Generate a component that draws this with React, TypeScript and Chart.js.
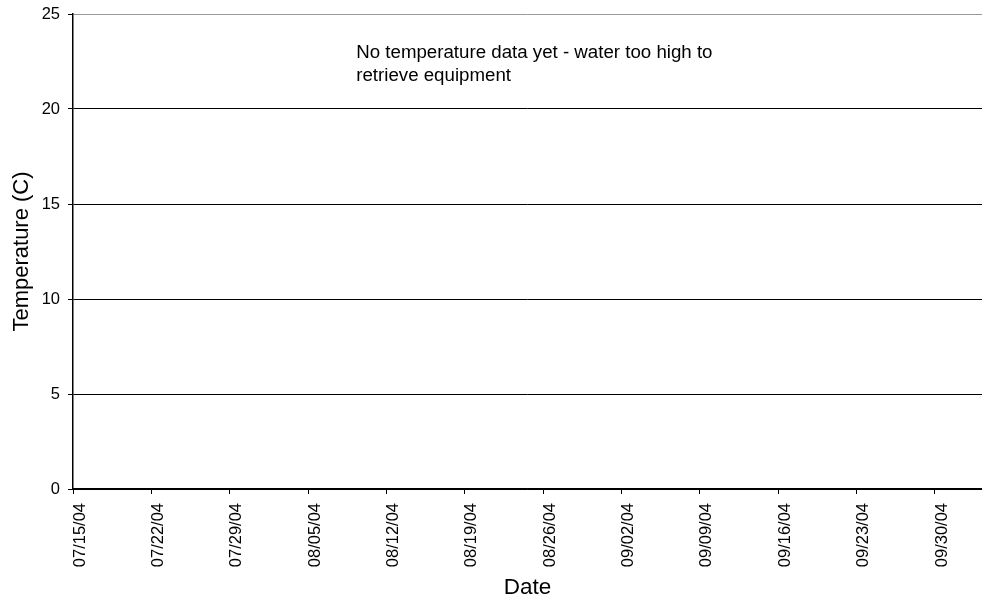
import React, { useEffect, useRef } from "react";
import { Chart, registerables } from "chart.js";

Chart.register(...registerables);

// Weekly tick dates (days since 07/15/04) and their labels
const tickDays = [0, 7, 14, 21, 28, 35, 42, 49, 56, 63, 70, 77];
const tickLabels = [
  "07/15/04", "07/22/04", "07/29/04", "08/05/04", "08/12/04", "08/19/04",
  "08/26/04", "09/02/04", "09/09/04", "09/16/04", "09/23/04", "09/30/04",
];
const xMin = 0;
const xMax = 81.2;
const yTicks = [0, 5, 10, 15, 20, 25];
const temperatureData: { x: number; y: number }[] = []; // no data yet

const noteLines = ["No temperature data yet - water too high to", "retrieve equipment"];
const noteX = 25.3; // days
const noteY = 22.71; // temperature units (first baseline)

const FONT = "'Liberation Sans', Arial, Helvetica, sans-serif";

const notePlugin = {
  id: "note",
  afterDraw(chart: any) {
    const { ctx, scales } = chart;
    const x = scales.x.getPixelForValue(noteX);
    const y = scales.y.getPixelForValue(noteY);
    ctx.save();
    ctx.font = `18.7px ${FONT}`;
    ctx.fillStyle = "#000";
    ctx.textAlign = "left";
    ctx.textBaseline = "alphabetic";
    noteLines.forEach((line, i) => ctx.fillText(line, x, y + i * 23));
    ctx.restore();
  },
};

export default function App() {
  const ref = useRef<HTMLCanvasElement>(null);
  useEffect(() => {
    if (!ref.current) return;
    const chart = new Chart(ref.current, {
      type: "scatter",
      data: {
        datasets: [
          {
            label: "Temperature",
            data: temperatureData,
            borderColor: "#000",
            backgroundColor: "#000",
          },
        ],
      },
      options: {
        animation: false,
        responsive: true,
        maintainAspectRatio: false,
        layout: { padding: { top: 14, left: 0, right: 0, bottom: 0 } },
        plugins: { legend: { display: false }, tooltip: { enabled: false } },
        scales: {
          x: {
            type: "linear",
            min: xMin,
            max: xMax,
            afterBuildTicks: (scale: any) => {
              scale.ticks = tickDays.map((v) => ({ value: v }));
            },
            afterFit: (scale: any) => {
              scale.height = 114;
              scale.paddingRight = 0;
            },
            ticks: {
              minRotation: 90,
              maxRotation: 90,
              autoSkip: false,
              padding: 9,
              labelOffset: 7,
              color: "#000",
              font: { family: FONT, size: 16.5 },
              callback: (value: any) => {
                const i = tickDays.indexOf(Number(value));
                return i >= 0 ? tickLabels[i] : "";
              },
            },
            grid: {
              drawOnChartArea: false,
              drawTicks: true,
              tickLength: 5,
              tickColor: "#000",
            },
            border: { display: true, color: "#000", width: 1.5 },
            title: {
              display: true,
              text: "Date",
              color: "#000",
              font: { family: FONT, size: 22.5 },
              padding: { top: 0, bottom: 2 },
            },
          },
          y: {
            type: "linear",
            min: 0,
            max: 25,
            afterBuildTicks: (scale: any) => {
              scale.ticks = yTicks.map((v) => ({ value: v }));
            },
            afterFit: (scale: any) => {
              scale.width = 73;
              scale.paddingTop = 0;
              scale.paddingBottom = 0;
            },
            ticks: {
              padding: 8,
              color: "#000",
              font: { family: FONT, size: 16.5 },
            },
            grid: {
              drawTicks: true,
              tickLength: 5,
              tickColor: "#000",
              color: (ctx: any) => (ctx.tick && ctx.tick.value === 25 ? "#999" : "#000"),
              lineWidth: 1,
            },
            border: { display: true, color: "#000", width: 1.5 },
            title: {
              display: true,
              text: "Temperature (C)",
              color: "#000",
              font: { family: FONT, size: 22 },
              padding: { top: 9, bottom: 0 },
            },
          },
        },
      } as any,
      plugins: [notePlugin],
    });
    return () => chart.destroy();
  }, []);

  return (
    <div style={{ position: "fixed", left: 0, top: 0, width: 982, height: 603, background: "#fff" }}>
      <canvas ref={ref} />
    </div>
  );
}
